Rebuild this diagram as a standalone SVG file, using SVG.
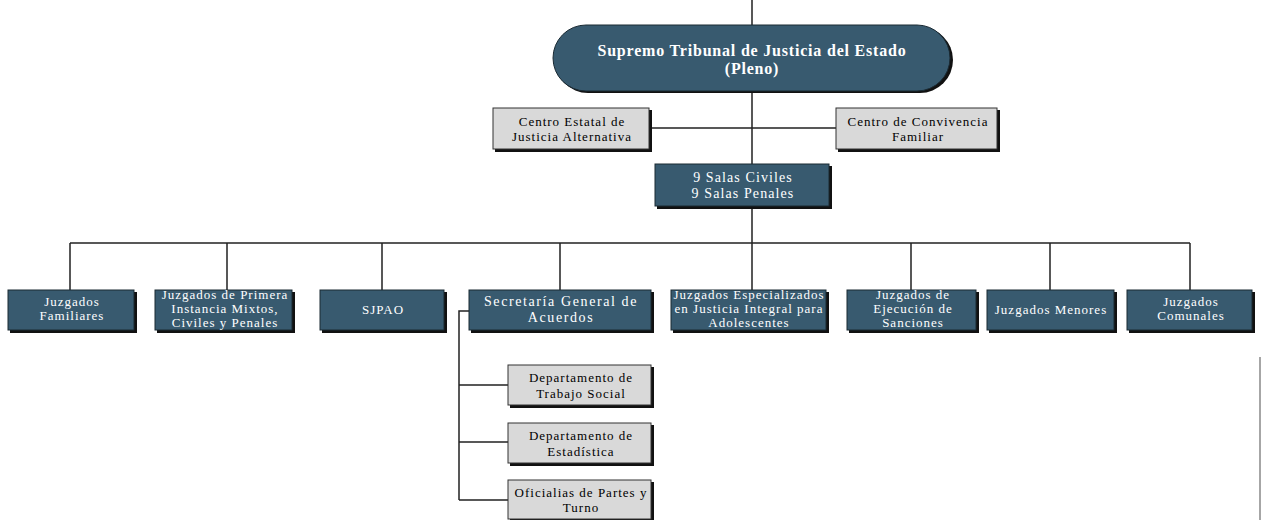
<svg xmlns="http://www.w3.org/2000/svg" width="1262" height="520" viewBox="0 0 1262 520">
<style>
.d{fill:#385a6f;stroke:#1a2a33;stroke-width:1}
.g{fill:#d9d9d9;stroke:#333;stroke-width:1}
.sh{fill:#111}
.tw{fill:#fff;font-family:"Liberation Serif",serif;font-size:13px;letter-spacing:1px;text-anchor:middle}
.tb{fill:#000;font-family:"Liberation Serif",serif;font-size:13px;letter-spacing:1px;text-anchor:middle}
.tt{font-weight:bold;font-size:16px;letter-spacing:0.8px}
.ts{font-size:14px;letter-spacing:1.1px}
.tg{font-size:14px;letter-spacing:1.6px}
.c{stroke:#222;stroke-width:1.5;fill:none}
</style>
<g id="connectors">
<path class="c" d="M752,0V25M752,91V165M752,207V243M650,128H836M70,243H1190M70,243V290M227,243V290M382,243V290M560,243V290M752,243V290M911,243V290M1050,243V290M1190,243V290"/>
<path class="c" d="M469,311H459V500M459,385H508M459,442H508M459,500H508"/>
<path d="M1260,357V520" stroke="#888" stroke-width="1.5"/>
</g>
<g id="supremo">
<rect x="555" y="27" width="398" height="66" rx="33" fill="#111"/>
<rect class="d" x="553" y="25" width="397" height="66" rx="33"/>
<text class="tw tt" x="752" y="56">Supremo Tribunal de Justicia del Estado</text>
<text class="tw tt" x="752" y="74">(Pleno)</text>
</g>
<g id="centro-estatal">
<rect class="sh" x="495" y="110" width="157" height="42"/>
<rect class="g" x="493" y="108" width="156" height="41"/>
<text class="tb" x="572" y="126">Centro Estatal de</text>
<text class="tb" x="572" y="141">Justicia Alternativa</text>
</g>
<g id="centro-convivencia">
<rect class="sh" x="838" y="110" width="162" height="42"/>
<rect class="g" x="836" y="108" width="161" height="41"/>
<text class="tb" x="918" y="126">Centro de Convivencia</text>
<text class="tb" x="918" y="141">Familiar</text>
</g>
<g id="salas">
<rect class="sh" x="657" y="166" width="175" height="43"/>
<rect class="d" x="655" y="164" width="174" height="42"/>
<text class="tw ts" x="743" y="182">9 Salas Civiles</text>
<text class="tw ts" x="743" y="198">9 Salas Penales</text>
</g>
<g id="juzgados-familiares">
<rect class="sh" x="10" y="292" width="127" height="41"/>
<rect class="d" x="8" y="290" width="126" height="40"/>
<text class="tw" x="72" y="306">Juzgados</text>
<text class="tw" x="72" y="320">Familiares</text>
</g>
<g id="juzgados-primera">
<rect class="sh" x="157" y="292" width="138" height="41"/>
<rect class="d" x="155" y="290" width="137" height="40"/>
<text class="tw" x="225" y="299">Juzgados de Primera</text>
<text class="tw" x="225" y="313">Instancia Mixtos,</text>
<text class="tw" x="225" y="327">Civiles y Penales</text>
</g>
<g id="sjpao">
<rect class="sh" x="322" y="292" width="125" height="41"/>
<rect class="d" x="320" y="290" width="124" height="40"/>
<text class="tw" x="383" y="314">SJPAO</text>
</g>
<g id="secretaria">
<rect class="sh" x="471" y="292" width="183" height="41"/>
<rect class="d" x="469" y="290" width="182" height="40"/>
<text class="tw tg" x="561" y="306">Secretaría General de</text>
<text class="tw tg" x="561" y="322">Acuerdos</text>
</g>
<g id="juzgados-especializados">
<rect class="sh" x="673" y="292" width="156" height="41"/>
<rect class="d" x="671" y="290" width="155" height="40"/>
<text class="tw" x="749" y="299">Juzgados Especializados</text>
<text class="tw" x="749" y="313">en Justicia Integral para</text>
<text class="tw" x="749" y="327">Adolescentes</text>
</g>
<g id="juzgados-ejecucion">
<rect class="sh" x="849" y="292" width="130" height="41"/>
<rect class="d" x="847" y="290" width="129" height="40"/>
<text class="tw" x="913" y="299">Juzgados de</text>
<text class="tw" x="913" y="313">Ejecución de</text>
<text class="tw" x="913" y="327">Sanciones</text>
</g>
<g id="juzgados-menores">
<rect class="sh" x="989" y="292" width="128" height="41"/>
<rect class="d" x="987" y="290" width="127" height="40"/>
<text class="tw" x="1051" y="314">Juzgados Menores</text>
</g>
<g id="juzgados-comunales">
<rect class="sh" x="1129" y="292" width="126" height="41"/>
<rect class="d" x="1127" y="290" width="125" height="40"/>
<text class="tw" x="1191" y="306">Juzgados</text>
<text class="tw" x="1191" y="320">Comunales</text>
</g>
<g id="trabajo-social">
<rect class="sh" x="510" y="367" width="144" height="41"/>
<rect class="g" x="508" y="365" width="143" height="40"/>
<text class="tb" x="581" y="382">Departamento de</text>
<text class="tb" x="581" y="398">Trabajo Social</text>
</g>
<g id="estadistica">
<rect class="sh" x="510" y="425" width="144" height="41"/>
<rect class="g" x="508" y="423" width="143" height="40"/>
<text class="tb" x="581" y="440">Departamento de</text>
<text class="tb" x="581" y="456">Estadística</text>
</g>
<g id="oficialias">
<rect class="sh" x="510" y="482" width="144" height="40"/>
<rect class="g" x="508" y="480" width="143" height="39"/>
<text class="tb" x="581" y="497">Oficialias de Partes y</text>
<text class="tb" x="581" y="512">Turno</text>
</g>
</svg>
